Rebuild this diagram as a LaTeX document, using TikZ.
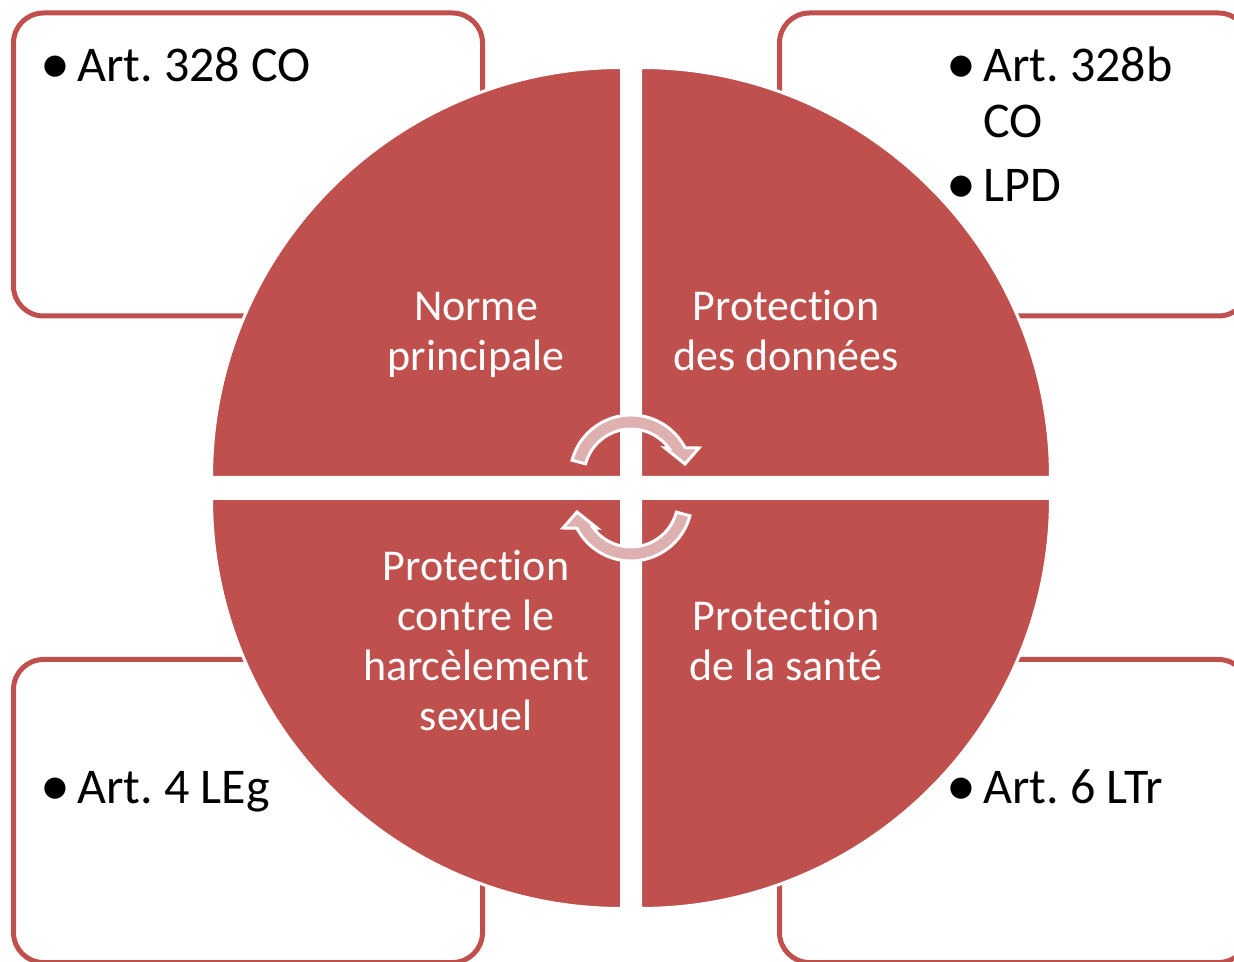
\documentclass[tikz,border=0pt]{standalone}
\usepackage{fontspec}
\setmainfont{Carlito}[Ligatures=NoCommon]
\usetikzlibrary{calc}
\definecolor{qred}{RGB}{192,80,77}
\definecolor{apink}{RGB}{222,176,175}
\frenchspacing
\newcommand{\bul}{{\fontsize{60}{56}\selectfont\raisebox{-2pt}{•}}}
\newcommand{\prot}{Protect\kern0pt ion}
\begin{document}
\begin{tikzpicture}[x=1pt,y=1pt,
  boxstyle/.style={draw=qred, line width=5pt, fill=white, rounded corners=30pt},
  quad/.style={fill=qred, draw=white, line width=3pt},
  cyc/.style={fill=apink, draw=white, line width=3pt, line join=miter},
  qtext/.style={anchor=north, inner sep=0pt, text=white, font=\fontsize{44}{50}\selectfont},
  btext/.style={anchor=north west, inner sep=0pt, text=black, font=\fontsize{50}{56}\selectfont}]
\useasboundingbox (0,0) rectangle (1234,961);
% outer boxes
\path[boxstyle] (13.5,645) rectangle (482.5,948);
\path[boxstyle] (779.5,645) rectangle (1248.5,948);
\path[boxstyle] (13.5,-1.5) rectangle (482.5,301.5);
\path[boxstyle] (779.5,-1.5) rectangle (1248.5,301.5);
% quadrants
\path[quad] (621.5,483.5) -- ++(-410,0) arc[start angle=180,end angle=90,radius=410] -- cycle;
\path[quad] (640.5,483.5) -- ++(0,410) arc[start angle=90,end angle=0,radius=410] -- cycle;
\path[quad] (621.5,462.5) -- ++(0,-410) arc[start angle=270,end angle=180,radius=410] -- cycle;
\path[quad] (640.5,462.5) -- ++(410,0) arc[start angle=0,end angle=-90,radius=410] -- cycle;
% cycle arrows
\coordinate (c1) at (631,485);
\coordinate (c2) at (631,461);
\path[cyc] ($(c1)+(165:61)$) arc[start angle=165,end angle=27.6,radius=61] -- (699,513) -- (685,497) -- (665,513) -- ($(c1)+(36.1:47)$) arc[start angle=36.1,end angle=165,radius=47] -- cycle;
\path[cyc] ($(c2)+(345:61)$) arc[start angle=345,end angle=207.6,radius=61] -- (563,433) -- (577,449) -- (597,433) -- ($(c2)+(216.1:47)$) arc[start angle=216.1,end angle=345,radius=47] -- cycle;
% quadrant texts
\node[qtext] (tnorme) at (476,676) {\begin{tabular}{@{}c@{}}Norme\\principale\end{tabular}};
\node[qtext] (tdonnees) at (786,676) {\begin{tabular}{@{}c@{}}\prot\\des données\end{tabular}};
\node[qtext] (tharc) at (476,416) {\begin{tabular}{@{}c@{}}\prot\\contre le\\harcèlement\\sexuel\end{tabular}};
\node[qtext] (tsante) at (786,366) {\begin{tabular}{@{}c@{}}\prot\\de la santé\end{tabular}};
% box texts
\node[btext] (bco) at (40,919.2) {\begin{tabular}{@{}p{37pt}@{}l@{}}\bul&Art. 328 CO\end{tabular}};
\node[btext] (blpd) at (946,919.2) {\begin{tabular}{@{}p{37pt}@{}l@{}}\bul&Art. 328b\\ &CO\\[8pt]\bul&LPD\end{tabular}};
\node[btext] (bleg) at (40,197.2) {\begin{tabular}{@{}p{37pt}@{}l@{}}\bul&Art. 4 LEg\end{tabular}};
\node[btext] (bltr) at (946,197.2) {\begin{tabular}{@{}p{37pt}@{}l@{}}\bul&Art. 6 LTr\end{tabular}};
\end{tikzpicture}
\end{document}
